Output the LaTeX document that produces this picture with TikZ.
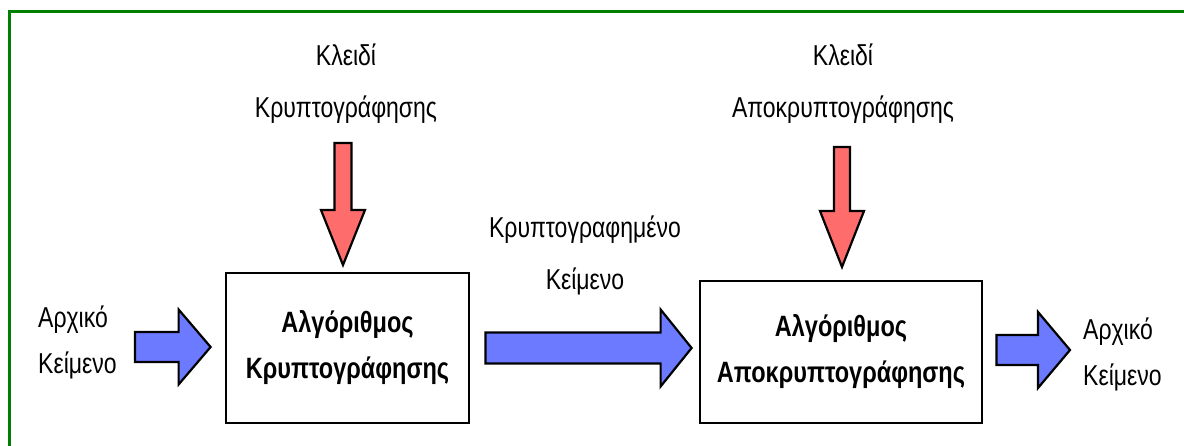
\documentclass[tikz,border=0pt]{standalone}
\usepackage{graphicx}
\usepackage{fontspec}
\setmainfont{Liberation Sans}
\usetikzlibrary{calc}
\definecolor{framegreen}{RGB}{0,128,0}
\definecolor{bluef}{RGB}{108,122,255}
\definecolor{redf}{RGB}{255,108,108}
\newcommand{\tall}[1]{\scalebox{1}[1.25]{#1}}
\tikzset{
  lbl/.style={inner sep=0pt, align=center, font=\fontsize{23}{52}\selectfont},
  lbll/.style={inner sep=0pt, align=left, font=\fontsize{23}{46}\selectfont},
  algo/.style={draw=black, line width=2.8pt, inner sep=0pt, align=center,
    font=\bfseries\fontsize{23.5}{46}\selectfont},
  barrow/.style={draw=black, line width=2.2pt, fill=bluef, line join=miter},
  rarrow/.style={draw=black, line width=2.2pt, fill=redf, line join=miter},
  frameline/.style={draw=framegreen, line width=3pt}
}
% horizontal block arrow: start, tip, shaft half, head half, head length, style
\newcommand{\hblockarrow}[6]{%
  \draw[#6] ($(#1)+(0,-#3)$) -- ($(#2)+(-#5,-#3)$) -- ($(#2)+(-#5,-#4)$) -- (#2)
    -- ($(#2)+(-#5,#4)$) -- ($(#2)+(-#5,#3)$) -- ($(#1)+(0,#3)$) -- cycle;}
% vertical (downward) block arrow
\newcommand{\vblockarrow}[6]{%
  \draw[#6] ($(#1)+(-#3,0)$) -- ($(#2)+(-#3,-#5)$) -- ($(#2)+(-#4,-#5)$) -- (#2)
    -- ($(#2)+(#4,-#5)$) -- ($(#2)+(#3,-#5)$) -- ($(#1)+(#3,0)$) -- cycle;}
\begin{document}
\begin{tikzpicture}[x=1pt,y=-1pt]
\useasboundingbox (0,0) rectangle (1184,446);
\fill[white] (0,0) rectangle (1184,446);
% frame (top and left edges)
\draw[frameline] (9.5,446) -- (9.5,11.5) -- (1184,11.5);

% boxes
\node[algo, minimum width=243pt, minimum height=150pt] (b1) at (347.5,348)
  {\tall{Αλγόριθμος}\\\tall{Κρυπτογράφησης}};
\node[algo, minimum width=282pt, minimum height=142pt] (b2) at (841,352)
  {\tall{Αλγόριθμος}\\\tall{Αποκρυπτογράφησης}};

% labels
\node[lbl] (k1) at (346,84) {\tall{Κλειδί}\\\tall{Κρυπτογράφησης}};
\node[lbl] (k2) at (843,84) {\tall{Κλειδί}\\\tall{Αποκρυπτογράφησης}};
\node[lbl] (ct) at (585,255) {\tall{Κρυπτογραφημένο}\\\tall{Κείμενο}};
\node[lbll, anchor=west] (in) at (38,342) {\tall{Αρχικό}\\\tall{Κείμενο}};
\node[lbll, anchor=west] (out) at (1083,354) {\tall{Αρχικό}\\\tall{Κείμενο}};

% connector coordinates
\coordinate (a1s) at (135,347);
\coordinate (a1e) at ($(b1.west)+(-14,-1)$);
\coordinate (a2s) at ($(b1.east)+(15,0)$);
\coordinate (a2e) at ($(b2.west)+(-7,-4)$);
\coordinate (a3s) at ($(b2.east)+(13,-2)$);
\coordinate (a3e) at (1070,350);
\coordinate (r1s) at (343,143);
\coordinate (r1e) at (343,265);
\coordinate (r2s) at (842,147);
\coordinate (r2e) at (842,267);

% blue arrows
\hblockarrow{a1s}{a1e}{15}{37.5}{32}{barrow}
\hblockarrow{a2s}{a2e}{15.5}{38.5}{31}{barrow}
\hblockarrow{a3s}{a3e}{15}{38}{32}{barrow}
% red arrows
\vblockarrow{r1s}{r1e}{8.5}{22}{55}{rarrow}
\vblockarrow{r2s}{r2e}{8}{22}{56}{rarrow}
\end{tikzpicture}
\end{document}
